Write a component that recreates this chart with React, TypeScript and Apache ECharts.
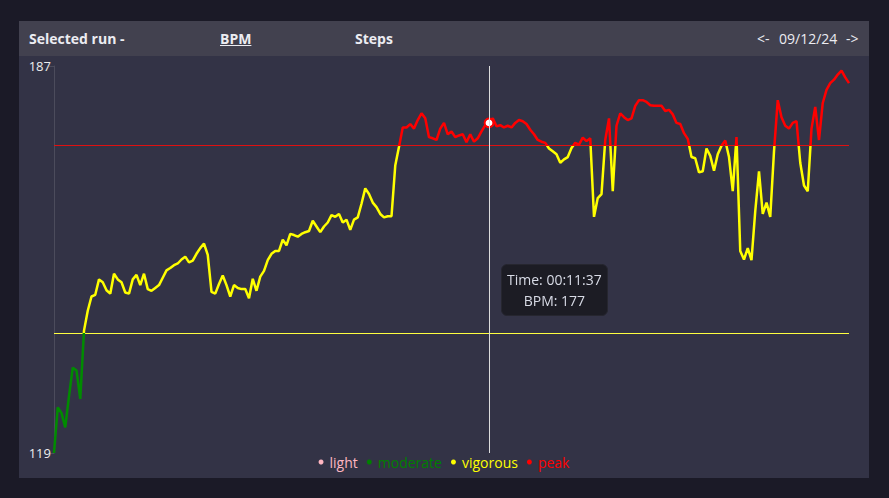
import React, { useEffect, useRef } from 'react';
import * as echarts from 'echarts';

// ---- data ----
const startSec = 1;
const stepSec = 6;
const selectedIndex = 116;

const bpm: number[] = [
  119, 127, 126, 123.5, 129, 134, 133.5, 128.5, 140.5, 144,
  146.5, 146.8, 149.5, 149, 147.6, 147, 150.5, 149.5, 149, 147.2,
  147, 149.5, 150.3, 148.5, 150.5, 147.8, 147.5, 148, 148.5, 149.8,
  151.1, 151.5, 152, 152.3, 153, 153.5, 152.5, 152.8, 154, 155,
  155.8, 153.8, 147.3, 147, 148.7, 150.2, 148.5, 146.5, 148.5, 148,
  147.8, 147.8, 146.2, 149.6, 147.5, 150, 151, 152.9, 154, 154.5,
  154.5, 156.5, 155.5, 157.5, 157.3, 157, 157.5, 157.8, 158, 159.8,
  158.8, 157.8, 158.8, 159.5, 160.8, 160.5, 161, 159.5, 160, 158.2,
  160, 160.4, 162.8, 165.5, 164.5, 163, 162.2, 161, 160.4, 160.6,
  160.6, 169.5, 172.8, 176.2, 176.2, 176.8, 176, 177.5, 178.7, 177.8,
  174.5, 174.3, 174, 176, 177, 175, 175.5, 174.5, 174.8, 175,
  173.6, 175, 173.7, 174.3, 175.5, 176.6, 177, 177.8, 176.4, 176.6,
  176.2, 176.5, 176.2, 177, 177.5, 177.3, 176.8, 175.8, 175, 174,
  173.7, 173.5, 172.5, 172, 171.5, 170, 170.6, 171, 172.6, 173.5,
  173.2, 174.4, 173.8, 174.3, 160.5, 163.8, 164.5, 174, 177.8, 165,
  176.5, 178.7, 178, 177.5, 177.8, 180, 181, 181, 180.7, 180.1,
  180, 180, 180, 179.1, 179.3, 178.5, 177, 176.8, 175.2, 174.2,
  171, 170.8, 168.3, 168.5, 172.5, 171.2, 168.6, 171.5, 173, 173.9,
  171, 165, 174.5, 154.5, 153, 155, 152.9, 161.5, 168.5, 161,
  163, 160.5, 172, 181, 178, 176.5, 176, 177, 177.3, 170,
  166, 165, 176, 179.8, 174, 180.5, 182.8, 184, 184.6, 185.5,
  186.2, 185, 184,
];

const zoneNames = ['light', 'moderate', 'vigorous', 'peak'];
const zoneColors = ['#ffb6c1', '#008000', '#ffff00', '#ff0000'];
const zoneBounds = [110, 140, 173];
const thresholdLines = [
  { value: 173, color: '#e01010' },
  { value: 140, color: '#ffff40' },
];
const yMin = 119;
const yMax = 187;

const pad = (n: number) => (n < 10 ? '0' + n : '' + n);
const fmtTime = (s: number) =>
  `${pad(Math.floor(s / 3600))}:${pad(Math.floor((s % 3600) / 60))}:${pad(s % 60)}`;
const timeLabels = bpm.map((_, i) => fmtTime(startSec + i * stepSec));

const FONT = "'Open Sans', 'Noto Sans', sans-serif";

export default function App() {
  const ref = useRef<HTMLDivElement>(null);

  useEffect(() => {
    if (!ref.current) return;
    const chart = echarts.init(ref.current, null, { renderer: 'svg' });
    const rich: Record<string, any> = {};
    zoneNames.forEach((n, i) => {
      rich['z' + i] = { color: zoneColors[i], fontSize: 14, fontFamily: FONT };
    });
    chart.setOption({
      animation: false,
      backgroundColor: 'transparent',
      textStyle: { fontFamily: FONT },
      grid: { left: 35, right: 20, top: 10, bottom: 25, containLabel: false },
      xAxis: {
        type: 'category',
        data: timeLabels,
        boundaryGap: false,
        axisLine: { show: false },
        axisTick: { show: false },
        axisLabel: { show: false },
        splitLine: { show: false },
      },
      yAxis: {
        type: 'value',
        min: yMin,
        max: yMax,
        interval: yMax - yMin,
        axisLine: { show: true, lineStyle: { color: '#4c4c5c', width: 1 } },
        axisTick: { show: true, length: 5, lineStyle: { color: '#4c4c5c' } },
        axisLabel: { color: '#eeeeee', fontSize: 13, margin: 3, fontFamily: FONT },
        splitLine: { show: false },
      },
      visualMap: {
        type: 'piecewise',
        seriesIndex: 0,
        orient: 'horizontal',
        left: 'center',
        bottom: -6,
        itemWidth: 5,
        itemHeight: 5,
        itemGap: 9,
        textGap: 6,
        itemSymbol: 'circle',
        selectedMode: false,
        textStyle: { fontSize: 14, fontFamily: FONT, color: '#ccc', rich },
        pieces: [
          { lt: zoneBounds[0], color: zoneColors[0], label: `{z0|${zoneNames[0]}}` },
          { gte: zoneBounds[0], lt: zoneBounds[1], color: zoneColors[1], label: `{z1|${zoneNames[1]}}` },
          { gte: zoneBounds[1], lt: zoneBounds[2], color: zoneColors[2], label: `{z2|${zoneNames[2]}}` },
          { gte: zoneBounds[2], color: zoneColors[3], label: `{z3|${zoneNames[3]}}` },
        ],
      },
      tooltip: {
        trigger: 'axis',
        alwaysShowContent: true,
        transitionDuration: 0,
        axisPointer: {
          type: 'line',
          lineStyle: { color: '#dddddd', width: 1, type: 'solid' },
        },
        position: () => [482, 208],
        backgroundColor: '#1c1c24',
        borderColor: '#26262f',
        borderWidth: 1,
        borderRadius: 6,
        padding: [4, 5],
        extraCssText: 'box-shadow:none;',
        textStyle: { color: '#d8dbe6', fontSize: 14, fontFamily: FONT },
        formatter: (params: any) => {
          const list = Array.isArray(params) ? params : [params];
          const p = list.find((q: any) => q.seriesIndex === 0) || list[0];
          return `<div style="text-align:center;line-height:21px">Time: ${p.name}<br/>BPM: ${Math.round(
            p.value
          )}</div>`;
        },
      },
      series: [
        {
          type: 'line',
          name: 'BPM',
          data: bpm,
          showSymbol: false,
          symbolSize: 8,
          lineStyle: { width: 2.5 },
          z: 3,
        },
      ],
    });

    // threshold lines, positioned through the chart's own scales
    const xStart = chart.convertToPixel({ xAxisIndex: 0 }, 0) as number;
    const xEnd = chart.convertToPixel({ xAxisIndex: 0 }, bpm.length - 1) as number;
    const graphics = thresholdLines.map((t) => {
      const y = Math.floor(chart.convertToPixel({ yAxisIndex: 0 }, t.value) as number) + 0.5;
      return {
        type: 'line',
        silent: true,
        z: 1,
        shape: { x1: xStart, y1: y, x2: xEnd, y2: y },
        style: { stroke: t.color, lineWidth: 1 },
      };
    });
    chart.setOption({ graphic: graphics });

    chart.dispatchAction({ type: 'showTip', seriesIndex: 0, dataIndex: selectedIndex });
    const t = setTimeout(() => {
      chart.dispatchAction({ type: 'showTip', seriesIndex: 0, dataIndex: selectedIndex });
    }, 50);
    return () => {
      clearTimeout(t);
      chart.dispose();
    };
  }, []);

  const headText: React.CSSProperties = {
    position: 'absolute',
    top: 0,
    lineHeight: '36px',
    whiteSpace: 'pre',
  };

  return (
    <div
      style={{
        position: 'fixed',
        left: 0,
        top: 0,
        width: 889,
        height: 498,
        background: '#1b1a27',
        fontFamily: FONT,
      }}
    >
      <div
        style={{
          position: 'absolute',
          left: 19,
          top: 21,
          width: 850,
          height: 35,
          background: '#42414f',
          color: '#ececf2',
          fontSize: 14,
          fontWeight: 700,
        }}
      >
        <span style={{ ...headText, left: 10 }}>Selected run -</span>
        <span style={{ ...headText, left: 201, textDecoration: 'underline' }}>BPM</span>
        <span style={{ ...headText, left: 336 }}>Steps</span>
        <span style={{ ...headText, left: 738, fontWeight: 400 }}>{'<-'}</span>
        <span style={{ ...headText, left: 760, fontWeight: 400 }}>09/12/24</span>
        <span style={{ ...headText, left: 827, fontWeight: 400 }}>{'->'}</span>
      </div>
      <div
        ref={ref}
        style={{
          position: 'absolute',
          left: 19,
          top: 56,
          width: 850,
          height: 422,
          background: '#333346',
        }}
      />
    </div>
  );
}
